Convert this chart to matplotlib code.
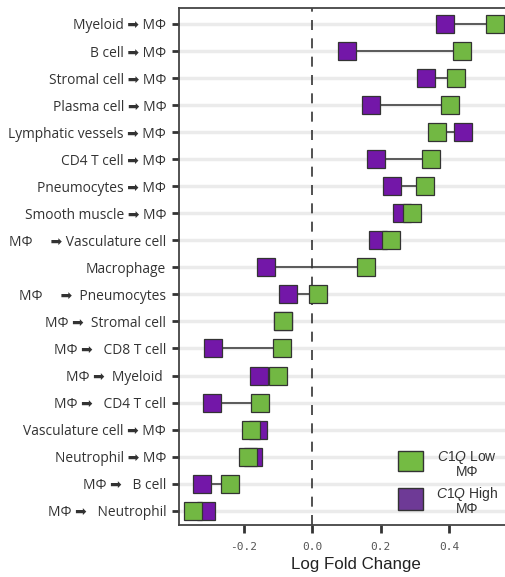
import matplotlib
matplotlib.use("Agg")
import matplotlib.pyplot as plt
from matplotlib.patches import Rectangle

plt.rcParams['font.family'] = ['Open Sans', 'DejaVu Sans']
plt.rcParams['mathtext.fontset'] = 'custom'
plt.rcParams['mathtext.it'] = 'Liberation Sans:italic'
plt.rcParams['mathtext.rm'] = 'Liberation Sans'

# Interaction labels, top to bottom
labels = [
    "Myeloid \u27a1 M\u03a6",
    "B cell \u27a1 M\u03a6",
    "Stromal cell \u27a1 M\u03a6",
    "Plasma cell \u27a1 M\u03a6",
    "Lymphatic vessels \u27a1 M\u03a6",
    "CD4 T cell \u27a1 M\u03a6",
    "Pneumocytes \u27a1 M\u03a6",
    "Smooth muscle \u27a1 M\u03a6",
    "M\u03a6     \u27a1 Vasculature cell",
    "Macrophage",
    "M\u03a6     \u27a1  Pneumocytes",
    "M\u03a6 \u27a1  Stromal cell",
    "M\u03a6 \u27a1   CD8 T cell",
    "M\u03a6 \u27a1  Myeloid ",
    "M\u03a6 \u27a1   CD4 T cell",
    "Vasculature cell \u27a1 M\u03a6",
    "Neutrophil \u27a1 M\u03a6",
    "M\u03a6 \u27a1   B cell",
    "M\u03a6 \u27a1   Neutrophil",
]

# Log fold change for C1Q-low and C1Q-high macrophages
c1q_low = [0.535, 0.439, 0.419, 0.404, 0.364, 0.347, 0.331, 0.293, 0.232, 0.159,
           0.017, -0.085, -0.089, -0.098, -0.151, -0.179, -0.186, -0.239, -0.347]
c1q_high = [0.388, 0.102, 0.332, 0.171, 0.441, 0.188, 0.235, 0.264, 0.192, -0.135,
            -0.070, -0.085, -0.288, -0.156, -0.291, -0.159, -0.173, -0.320, -0.310]

xticks = [-0.2, 0.0, 0.2, 0.4]

green = "#72b843"
purple = "#7317a8"
edge = "#333333"

fig = plt.figure(figsize=(5.06, 5.77), dpi=100)
ax = fig.add_axes([178.7 / 506, 1 - 525 / 577, (533 - 178.7) / 506, (525 - 8) / 577])

y = list(range(len(labels)))

for yi, lo, hi in zip(y, c1q_low, c1q_high):
    ax.plot([lo, hi], [yi, yi], color="#333333", lw=1.1, zorder=2)

ax.plot(c1q_high, y, ls="none", marker="s", ms=12.6, mfc=purple, mec=edge, mew=0.9, zorder=3)
ax.plot(c1q_low, y, ls="none", marker="s", ms=12.6, mfc=green, mec=edge, mew=0.9, zorder=4)

ax.axvline(0, color="#333333", lw=1.2, ls=(0, (6, 5)), zorder=1)

ax.set_ylim(18 + 14.3 / 27.04, -16 / 27.04)
ax.set_xlim((178.7 - 312) / 342.5, (533 - 312) / 342.5)

ax.set_yticks(y)
ax.set_yticklabels(labels, fontsize=9.9, color="#333333")
ax.set_xticks(xticks)
ax.set_xticklabels([f"{t:.1f}" for t in xticks], family="DejaVu Sans Mono",
                   fontsize=8, color="#555555")

ax.yaxis.grid(True, color="#ebebeb", lw=2.5, zorder=0)
ax.set_axisbelow(True)

ax.tick_params(axis="y", length=5, width=2, color="#333333", pad=4)
ax.tick_params(axis="x", length=6, width=2, color="#333333", pad=6)

for side in ("left", "top", "bottom"):
    ax.spines[side].set_color("#444444")
    ax.spines[side].set_linewidth(1.3)
ax.spines["right"].set_visible(False)

ax.set_xlabel("Log Fold Change", family="Liberation Sans", fontsize=12.2,
              color="#222222", labelpad=4)

# Legend
W, H = 506, 577
def fx(px):
    return px / W
def fy(py):
    return 1 - py / H

fig.add_artist(Rectangle((fx(398), fy(471)), 25 / W, 20 / H, transform=fig.transFigure,
                         facecolor="#74bb43", edgecolor=edge, lw=1.0))
fig.add_artist(Rectangle((fx(398), fy(510)), 25 / W, 22 / H, transform=fig.transFigure,
                         facecolor="#6e3a96", edgecolor=edge, lw=1.0))
leg_kw = dict(ha="center", va="center", fontsize=10, color="#333333", family="Liberation Sans")
fig.text(fx(467), fy(457), r"$\mathit{C1Q}$ Low", **leg_kw)
fig.text(fx(467), fy(472), "M\u03a6", **leg_kw)
fig.text(fx(467), fy(494), r"$\mathit{C1Q}$ High", **leg_kw)
fig.text(fx(467), fy(509), "M\u03a6", **leg_kw)

fig.savefig("out.png", dpi=100)
